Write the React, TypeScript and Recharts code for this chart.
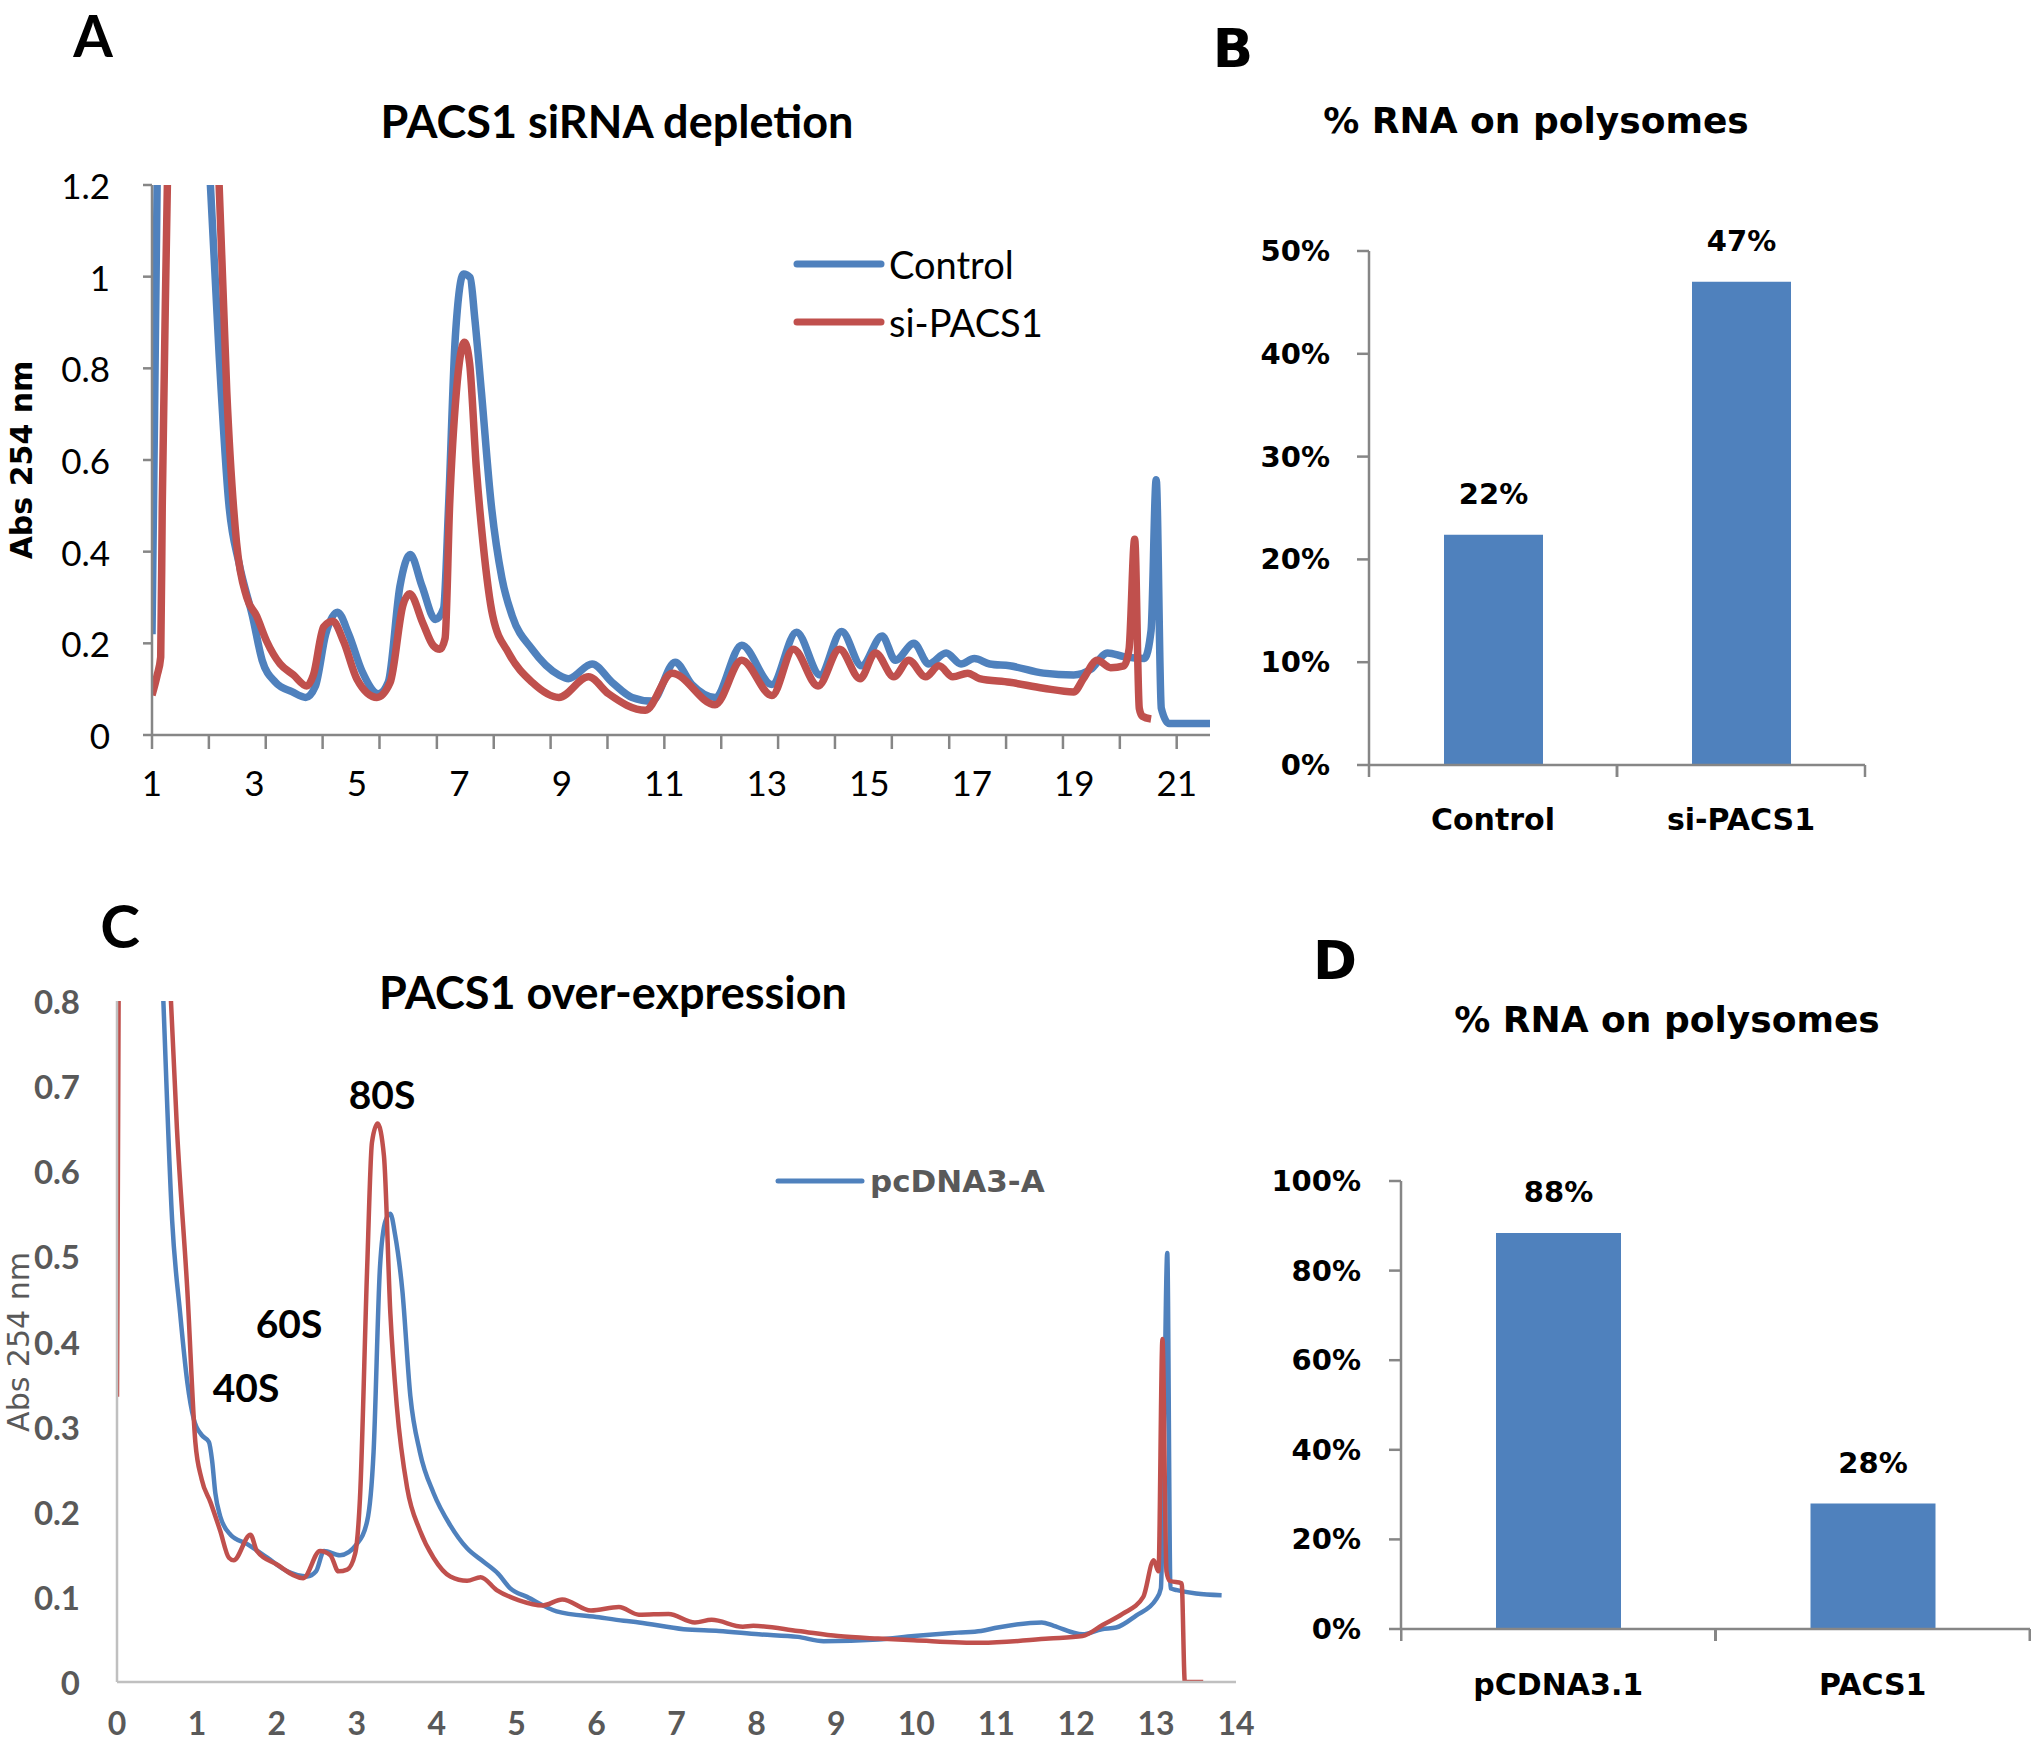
import React from 'react'
import { Bar, BarChart, LabelList, Legend, Line, LineChart, XAxis, YAxis } from 'recharts'

// ---- panel A: PACS1 siRNA depletion (gradient profile) ----
const ctrlX = [1.0, 1.05, 1.1, 1.15, 1.6, 2.0, 2.14, 2.31, 2.5, 2.7, 2.96, 3.15, 3.41, 3.74, 4.0, 4.19, 4.39, 4.62, 4.84, 5.1, 5.42, 5.61, 5.84, 6.04, 6.27, 6.53, 6.69, 6.79, 6.92, 7.08, 7.21, 7.3, 7.43, 7.62, 7.83, 8.03, 8.42, 8.94, 9.13, 9.59, 9.98, 10.37, 10.76, 11.21, 11.54, 11.99, 12.51, 13.1, 13.58, 14.04, 14.46, 14.85, 15.25, 15.51, 15.87, 16.16, 16.5, 16.79, 17.05, 17.35, 17.74, 18.4, 18.99, 19.32, 19.65, 19.97, 20.37, 20.5, 20.6, 20.7, 20.85, 21.65]
const ctrlY = [0.22, 0.7, 1.2, 1.6, 2.4, 1.6, 1.2, 0.83, 0.504, 0.374, 0.26, 0.163, 0.115, 0.094, 0.082, 0.107, 0.22, 0.268, 0.22, 0.139, 0.09, 0.115, 0.325, 0.394, 0.325, 0.252, 0.276, 0.504, 0.868, 1.006, 0.998, 0.909, 0.748, 0.504, 0.342, 0.26, 0.187, 0.131, 0.123, 0.155, 0.115, 0.082, 0.074, 0.159, 0.11, 0.082, 0.196, 0.11, 0.224, 0.131, 0.226, 0.151, 0.216, 0.163, 0.2, 0.155, 0.179, 0.155, 0.167, 0.155, 0.151, 0.135, 0.131, 0.143, 0.179, 0.171, 0.167, 0.228, 0.557, 0.058, 0.025, 0.025]
const siX = [1.0, 1.1, 1.17, 1.2, 1.3, 1.35, 1.8, 2.2, 2.31, 2.46, 2.65, 2.85, 3.04, 3.24, 3.5, 3.76, 4.02, 4.15, 4.35, 4.53, 4.74, 5.0, 5.39, 5.65, 5.9, 6.03, 6.29, 6.49, 6.62, 6.72, 6.81, 6.94, 7.1, 7.2, 7.33, 7.46, 7.65, 7.96, 8.42, 8.94, 9.52, 9.91, 10.63, 11.15, 11.99, 12.51, 13.1, 13.52, 14.0, 14.42, 14.82, 15.12, 15.48, 15.77, 16.1, 16.36, 16.63, 16.92, 17.15, 17.74, 18.4, 18.99, 19.18, 19.45, 19.71, 19.97, 20.07, 20.18, 20.27, 20.33, 20.5]
const siY = [0.087, 0.13, 0.17, 0.5, 1.2, 1.6, 2.4, 1.6, 1.2, 0.748, 0.42, 0.3, 0.26, 0.204, 0.155, 0.131, 0.107, 0.131, 0.236, 0.248, 0.204, 0.122, 0.082, 0.115, 0.284, 0.308, 0.243, 0.195, 0.187, 0.211, 0.504, 0.748, 0.857, 0.81, 0.583, 0.42, 0.26, 0.179, 0.115, 0.082, 0.127, 0.09, 0.054, 0.135, 0.066, 0.163, 0.086, 0.187, 0.107, 0.187, 0.123, 0.179, 0.127, 0.163, 0.127, 0.151, 0.127, 0.135, 0.123, 0.115, 0.102, 0.094, 0.123, 0.163, 0.147, 0.151, 0.187, 0.427, 0.058, 0.041, 0.035]
const aYTicks = [0, 0.2, 0.4, 0.6, 0.8, 1, 1.2]
const aLabelTicks = [1, 3, 5, 7, 9, 11, 13, 15, 17, 19, 21]
const aMarkTicks = [1, 2.11, 3.22, 4.33, 5.44, 6.56, 7.67, 8.78, 9.89, 11, 12.11, 13.22, 14.33, 15.44, 16.56, 17.67, 18.78, 19.89, 21]

// ---- panel B ----
const bCategories = ['Control', 'si-PACS1']
const bValues = [22.4, 47]
const bTicks = [0, 10, 20, 30, 40, 50]

// ---- panel C: PACS1 over-expression ----
const pcX = [0, 0.3, 0.5, 0.58, 0.69, 0.79, 0.88, 0.96, 1.06, 1.15, 1.19, 1.23, 1.29, 1.42, 1.63, 1.88, 2.13, 2.38, 2.49, 2.59, 2.79, 3.0, 3.13, 3.21, 3.29, 3.36, 3.42, 3.48, 3.57, 3.67, 3.79, 3.96, 4.17, 4.38, 4.59, 4.77, 4.92, 5.13, 5.5, 6.03, 6.34, 6.53, 7.09, 7.53, 8.03, 8.52, 8.84, 9.52, 9.97, 10.52, 10.81, 11.02, 11.57, 11.72, 12.08, 12.32, 12.5, 12.75, 13.0, 13.06, 13.1, 13.14, 13.18, 13.26, 13.5, 13.82]
const pcY = [1.6, 1.5, 1.0, 0.8, 0.542, 0.433, 0.352, 0.309, 0.29, 0.282, 0.26, 0.222, 0.195, 0.173, 0.162, 0.146, 0.13, 0.124, 0.13, 0.154, 0.149, 0.162, 0.189, 0.27, 0.487, 0.542, 0.55, 0.525, 0.46, 0.336, 0.27, 0.222, 0.184, 0.157, 0.141, 0.127, 0.11, 0.1, 0.083, 0.076, 0.072, 0.07, 0.062, 0.06, 0.056, 0.053, 0.048, 0.05, 0.054, 0.058, 0.06, 0.064, 0.07, 0.066, 0.056, 0.062, 0.064, 0.078, 0.097, 0.11, 0.3, 0.504, 0.11, 0.108, 0.104, 0.102]
const oeX = [0, 0.02, 0.05, 0.4, 0.6, 0.67, 0.75, 0.88, 0.98, 1.06, 1.17, 1.29, 1.4, 1.46, 1.67, 1.75, 2.0, 2.33, 2.54, 2.67, 2.77, 2.88, 2.98, 3.04, 3.13, 3.19, 3.26, 3.34, 3.42, 3.5, 3.63, 3.79, 3.96, 4.17, 4.38, 4.55, 4.75, 5.03, 5.33, 5.57, 5.93, 6.28, 6.53, 6.9, 7.23, 7.44, 7.83, 7.96, 8.52, 9.02, 9.52, 9.97, 10.81, 11.66, 12.08, 12.33, 12.58, 12.84, 12.97, 13.03, 13.08, 13.13, 13.17, 13.32, 13.36, 13.59]
const oeY = [0.335, 0.8, 1.6, 1.7, 1.0, 0.81, 0.65, 0.46, 0.282, 0.238, 0.211, 0.178, 0.146, 0.143, 0.173, 0.154, 0.138, 0.122, 0.154, 0.149, 0.13, 0.132, 0.151, 0.216, 0.487, 0.634, 0.656, 0.618, 0.433, 0.325, 0.228, 0.178, 0.146, 0.124, 0.119, 0.123, 0.108, 0.096, 0.09, 0.097, 0.084, 0.088, 0.079, 0.08, 0.07, 0.073, 0.065, 0.066, 0.06, 0.054, 0.051, 0.049, 0.046, 0.051, 0.054, 0.067, 0.08, 0.1, 0.143, 0.13, 0.403, 0.13, 0.119, 0.116, 0, 0]
const cYTicks = [0, 0.1, 0.2, 0.3, 0.4, 0.5, 0.6, 0.7, 0.8]
const cXTicks = [0, 1, 2, 3, 4, 5, 6, 7, 8, 9, 10, 11, 12, 13, 14]

// ---- panel D ----
const dCategories = ['pCDNA3.1', 'PACS1']
const dValues = [88.4, 28]
const dTicks = [0, 20, 40, 60, 80, 100]

const BLUE = '#4f81bd'
const RED = '#c0504d'
const AXIS = '#868686'
const GREY_TXT = '#595959'
const CAL = "Lato, 'Open Sans', sans-serif"
const VER = "'DejaVu Sans', Verdana, sans-serif"

const toPts = (xs, ys) => xs.map((x, i) => ({ x, y: ys[i] }))
const ctrlData = toPts(ctrlX, ctrlY)
const siData = toPts(siX, siY)
const pcData = toPts(pcX, pcY)
const oeData = toPts(oeX, oeY)
const bData = bCategories.map((name, i) => ({ name, value: bValues[i] }))
const dData = dCategories.map((name, i) => ({ name, value: dValues[i] }))

const near = (arr, v) => arr.some((a) => Math.abs(a - v) < 1e-6)

function Caption({ x, y, text, size, font, weight = 'bold', color = '#000', rotate = false }) {
  return (
    <div
      style={{
        position: 'absolute', left: x, top: y, whiteSpace: 'nowrap', lineHeight: 1,
        transform: `translate(-50%, -50%)${rotate ? ' rotate(-90deg)' : ''}`,
        fontFamily: font, fontSize: size, fontWeight: weight, color,
      }}
    >
      {text}
    </div>
  )
}

function ATickX({ x, y, payload }) {
  const v = payload.value
  return (
    <g>
      {near(aMarkTicks, v) && <line x1={x} y1={y} x2={x} y2={y + 14} stroke={AXIS} strokeWidth={2.5} />}
      {near(aLabelTicks, v) && (
        <text x={x} y={y + 47} textAnchor="middle" dominantBaseline="central" fontFamily={CAL} fontSize={35} fill="#000">{v}</text>
      )}
    </g>
  )
}

function ATickY({ x, y, payload }) {
  return (
    <g>
      <line x1={x - 9} y1={y} x2={x} y2={y} stroke={AXIS} strokeWidth={2.5} />
      <text x={x - 42} y={y} textAnchor="end" dominantBaseline="central" fontFamily={CAL} fontSize={35} fill="#000">{payload.value}</text>
    </g>
  )
}

function CTickX({ x, y, payload }) {
  return (
    <text x={x} y={y + 40} textAnchor="middle" dominantBaseline="central" fontFamily={CAL} fontWeight="bold" fontSize={32} fill={GREY_TXT}>{payload.value}</text>
  )
}

function CTickY({ x, y, payload }) {
  return (
    <text x={x - 37} y={y} textAnchor="end" dominantBaseline="central" fontFamily={CAL} fontWeight="bold" fontSize={33} fill={GREY_TXT}>{payload.value}</text>
  )
}

const barTickX = (half, dy) => ({ x, y, payload }) => (
  <g>
    <line x1={x - half} y1={y} x2={x - half} y2={y + 12} stroke={AXIS} strokeWidth={2.5} />
    <line x1={x + half} y1={y} x2={x + half} y2={y + 12} stroke={AXIS} strokeWidth={2.5} />
    <text x={x} y={y + dy} textAnchor="middle" dominantBaseline="central" fontFamily={VER} fontWeight="bold" fontSize={30} fill="#000">{payload.value}</text>
  </g>
)

const barTickY = (gap) => ({ x, y, payload }) => (
  <g>
    <line x1={x - 12} y1={y} x2={x} y2={y} stroke={AXIS} strokeWidth={2.5} />
    <text x={x - gap} y={y} textAnchor="end" dominantBaseline="central" fontFamily={VER} fontWeight="bold" fontSize={29} fill="#000">{`${payload.value}%`}</text>
  </g>
)

const barLabel = ({ x, y, width, value }) => (
  <text x={x + width / 2} y={y - 41} textAnchor="middle" dominantBaseline="central" fontFamily={VER} fontWeight="bold" fontSize={29} fill="#000">{`${Math.round(value)}%`}</text>
)

const lineLegend = (stroke, rowH, font, size, weight, color) => ({ payload }) => (
  <div>
    {(payload || []).filter((p) => p.type !== 'none').map((p) => (
      <div key={p.value} style={{ display: 'flex', alignItems: 'center', height: rowH }}>
        <svg width={92} height={14}>
          <line x1={4} y1={7} x2={88} y2={7} stroke={p.color} strokeWidth={stroke} strokeLinecap="round" />
        </svg>
        <span style={{ marginLeft: 4, fontFamily: font, fontSize: size, fontWeight: weight, color, lineHeight: 1 }}>{p.value}</span>
      </div>
    ))}
  </div>
)

export default function App() {
  const aTicks = Array.from(new Set([...aMarkTicks, ...aLabelTicks])).sort((a, b) => a - b)
  return (
    <div style={{ position: 'absolute', left: 0, top: 0, width: 2033, height: 1742, overflow: 'hidden', background: '#fff' }}>
      {/* A */}
      <div style={{ position: 'absolute', left: 0, top: 0 }}>
        <LineChart width={1230} height={830} margin={{ top: 185, right: 20, left: 0, bottom: 25 }}>
          <XAxis dataKey="x" type="number" domain={[1, 21.65]} allowDataOverflow ticks={aTicks} interval={0}
            tick={ATickX} tickLine={false} tickSize={0} tickMargin={0} height={70}
            axisLine={{ stroke: AXIS, strokeWidth: 2.5 }} />
          <YAxis type="number" domain={[0, 1.2]} allowDataOverflow ticks={aYTicks} interval={0}
            tick={ATickY} tickLine={false} tickSize={0} tickMargin={0} width={152}
            axisLine={{ stroke: AXIS, strokeWidth: 2.5 }} />
          <Legend layout="vertical" align="center" verticalAlign="middle"
            wrapperStyle={{ left: 793, top: 235, width: 400 }}
            content={lineLegend(7, 58, CAL, 38, 'normal', '#000')} />
          <Line data={ctrlData} dataKey="y" name="Control" type="monotone" stroke={BLUE} strokeWidth={7.5} dot={false} isAnimationActive={false} />
          <Line data={siData} dataKey="y" name="si-PACS1" type="monotone" stroke={RED} strokeWidth={7.5} dot={false} isAnimationActive={false} />
        </LineChart>
      </div>

      {/* B */}
      <div style={{ position: 'absolute', left: 1230, top: 0 }}>
        <BarChart width={803} height={870} data={bData} margin={{ top: 251, right: 168, left: 0, bottom: 45 }}>
          <XAxis dataKey="name" tick={barTickX(124, 54)} tickLine={false} tickSize={0} tickMargin={0} height={60} interval={0}
            axisLine={{ stroke: AXIS, strokeWidth: 2.5 }} />
          <YAxis domain={[0, 50]} ticks={bTicks} interval={0} tick={barTickY(39)} tickLine={false} tickSize={0} tickMargin={0} width={139}
            axisLine={{ stroke: AXIS, strokeWidth: 2.5 }} />
          <Bar dataKey="value" fill={BLUE} barSize={99} isAnimationActive={false}>
            <LabelList dataKey="value" content={barLabel} />
          </Bar>
        </BarChart>
      </div>

      {/* C */}
      <div style={{ position: 'absolute', left: 0, top: 980 }}>
        <LineChart width={1260} height={762} margin={{ top: 21, right: 24, left: 0, bottom: 10 }}>
          <XAxis dataKey="x" type="number" domain={[0, 14]} allowDataOverflow ticks={cXTicks} interval={0}
            tick={CTickX} tickLine={false} tickSize={0} tickMargin={0} height={50}
            axisLine={{ stroke: '#c0c0c0', strokeWidth: 2.5 }} />
          <YAxis type="number" domain={[0, 0.8]} allowDataOverflow ticks={cYTicks} interval={0}
            tick={CTickY} tickLine={false} tickSize={0} tickMargin={0} width={117}
            axisLine={{ stroke: '#c0c0c0', strokeWidth: 2.5 }} />
          <Legend layout="vertical" align="center" verticalAlign="middle"
            wrapperStyle={{ left: 774, top: 176, width: 400 }}
            content={lineLegend(5, 50, VER, 31, 'bold', GREY_TXT)} />
          <Line data={pcData} dataKey="y" name="pcDNA3-A" type="monotone" stroke={BLUE} strokeWidth={4.5} dot={false} isAnimationActive={false} />
          <Line data={oeData} dataKey="y" name="PACS1" legendType="none" type="monotone" stroke={RED} strokeWidth={4.5} dot={false} isAnimationActive={false} />
        </LineChart>
      </div>

      {/* D */}
      <div style={{ position: 'absolute', left: 1230, top: 870 }}>
        <BarChart width={803} height={872} data={dData} margin={{ top: 311, right: 3, left: 0, bottom: 53 }}>
          <XAxis dataKey="name" tick={barTickX(157, 55)} tickLine={false} tickSize={0} tickMargin={0} height={60} interval={0}
            axisLine={{ stroke: AXIS, strokeWidth: 2.5 }} />
          <YAxis domain={[0, 100]} ticks={dTicks} interval={0} tick={barTickY(40)} tickLine={false} tickSize={0} tickMargin={0} width={171}
            axisLine={{ stroke: AXIS, strokeWidth: 2.5 }} />
          <Bar dataKey="value" fill={BLUE} barSize={125} isAnimationActive={false}>
            <LabelList dataKey="value" content={barLabel} />
          </Bar>
        </BarChart>
      </div>

      <Caption x={93} y={35} text="A" size={57} font={CAL} />
      <Caption x={617} y={121} text="PACS1 siRNA depletion" size={45} font={CAL} />
      <Caption x={22} y={460} text="Abs 254 nm" size={30} font={VER} rotate />
      <Caption x={1233} y={48} text="B" size={53} font={VER} />
      <Caption x={1536} y={121} text="% RNA on polysomes" size={36} font={VER} />
      <Caption x={120} y={925} text="C" size={60} font={CAL} />
      <Caption x={613} y={992} text="PACS1 over-expression" size={45} font={CAL} />
      <Caption x={19} y={1342} text="Abs 254 nm" size={30} font={VER} weight="normal" color={GREY_TXT} rotate />
      <Caption x={382} y={1094} text="80S" size={39} font={CAL} />
      <Caption x={289} y={1323} text="60S" size={39} font={CAL} />
      <Caption x={246} y={1387} text="40S" size={39} font={CAL} />
      <Caption x={1335} y={960} text="D" size={53} font={VER} />
      <Caption x={1667} y={1020} text="% RNA on polysomes" size={36} font={VER} />
    </div>
  )
}
